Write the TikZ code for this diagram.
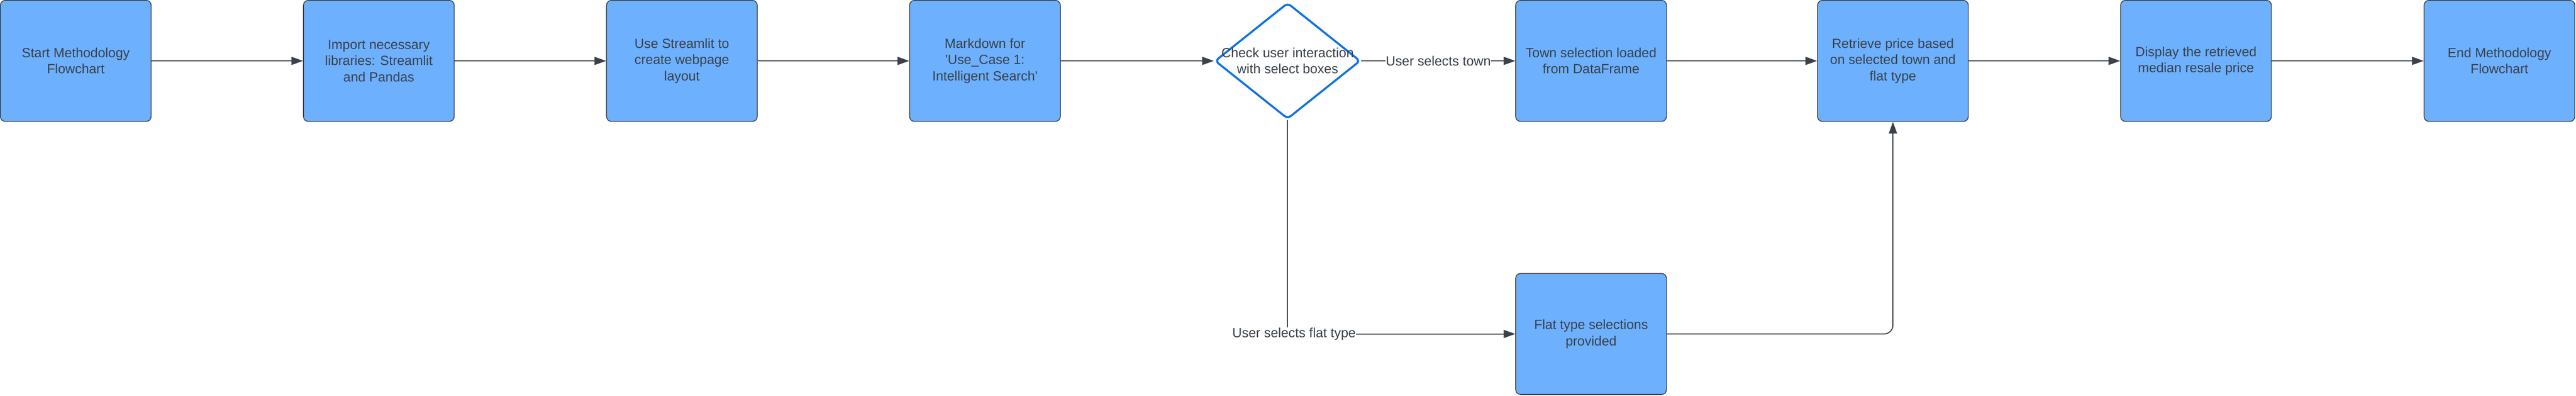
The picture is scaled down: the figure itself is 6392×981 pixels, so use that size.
\documentclass[tikz,border=0pt]{standalone}
\usepackage{fontspec}
\setmainfont{Liberation Sans}
\usetikzlibrary{arrows.meta,shapes.geometric}
\definecolor{boxfill}{HTML}{6DB0FE}
\definecolor{ink}{HTML}{3A414A}
\definecolor{diablue}{HTML}{1071E5}
\tikzset{
  x=1pt, y=-1pt,
  stepbox/.style={rectangle, rounded corners=12pt, draw=ink, line width=2pt, fill=boxfill,
    minimum width=374pt, minimum height=300pt, inner sep=0pt, align=center, text=ink,
    font=\fontsize{33}{40}\selectfont},
  decision/.style={diamond, draw=diablue, line width=5pt, rounded corners=10pt, fill=white,
    minimum width=361pt, minimum height=288pt, inner sep=0pt},
  txt/.style={align=center, text=ink, font=\fontsize{33}{40}\selectfont, inner sep=0pt},
  lbl/.style={fill=white, text=ink, font=\fontsize{33}{40}\selectfont, inner sep=1pt},
  conn/.style={draw=ink, line width=2.5pt, -{Triangle[length=29pt,width=20pt]}}
}
\begin{document}
\begin{tikzpicture}
\useasboundingbox (0,0) rectangle (6392,981);
\node[stepbox] (s1) at (188,151) {Start Methodology\\Flowchart};
\node[stepbox] (s2) at (940,151) {Import necessary\\libraries: Streamlit\\and Pandas};
\node[stepbox] (s3) at (1692,151) {Use Streamlit to\\create webpage\\layout};
\node[stepbox] (s4) at (2444,151) {Markdown for\\\textquotesingle Use\_Case 1:\\Intelligent Search\textquotesingle};
\node[decision] (dia) at (3195,151) {};
\node[txt] (diatext) at (3195,151) {Check user interaction\\with select boxes};
\node[stepbox] (town) at (3948,151) {Town selection loaded\\from DataFrame};
\node[stepbox] (ret) at (4697,151) {Retrieve price based\\on selected town and\\flat type};
\node[stepbox] (disp) at (5449,151) {Display the retrieved\\median resale price};
\node[stepbox] (fin) at (6202,151) {End Methodology\\Flowchart};
\node[stepbox] (flat) at (3948,828) {Flat type selections\\provided};

\draw[conn] (s1.east) -- (s2.west);
\draw[conn] (s2.east) -- (s3.west);
\draw[conn] (s3.east) -- (s4.west);
\draw[conn] (s4.east) -- (dia.west);
\draw[conn] (dia.east) -- node[lbl] (ltown) {User selects town} (town.west);
\draw[conn] (town.east) -- (ret.west);
\draw[conn] (ret.east) -- (disp.west);
\draw[conn] (disp.east) -- (fin.west);
\draw[conn] (dia.south) |- node[lbl, xshift=16pt] (lflat) {User selects flat type} (flat.west);
\draw[conn, rounded corners=22pt] (flat.east) -| (ret.south);
\end{tikzpicture}
\end{document}
